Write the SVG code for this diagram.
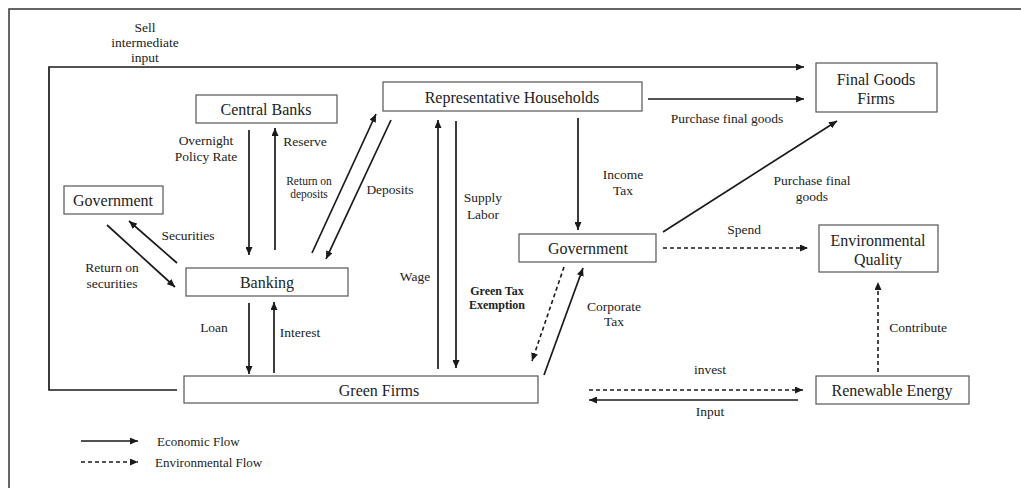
<svg xmlns="http://www.w3.org/2000/svg" width="1021" height="488" viewBox="0 0 1021 488">
<style>
text{font-family:"Liberation Serif","Times New Roman",serif;fill:#222;dominant-baseline:central}
.n{font-size:16px;text-anchor:middle}
.l{font-size:13.5px;text-anchor:middle}
.s{font-size:11.5px;text-anchor:middle}
.b{font-size:12px;font-weight:bold;text-anchor:middle}
.box{fill:#fff;stroke:#555;stroke-width:1.2}
.e{fill:none;stroke:#1a1a1a;stroke-width:1.7;marker-end:url(#ah)}
.d{fill:none;stroke:#1a1a1a;stroke-width:1.6;stroke-dasharray:4 3;marker-end:url(#ah)}
</style>
<defs>
<marker id="ah" markerUnits="userSpaceOnUse" markerWidth="9" markerHeight="7" refX="8" refY="3.5" orient="auto"><path d="M0,0 L8,3.5 L0,7 z" fill="#1a1a1a"/></marker>
</defs>
<rect x="0" y="0" width="1021" height="488" fill="#fff"/>
<rect x="9" y="9" width="1030" height="500" fill="none" stroke="#333" stroke-width="1.5"/>

<g id="connectors">
<path class="e" d="M177,390 H49 V67 H804"/>
<text class="l" x="145" y="27">Sell</text>
<text class="l" x="145" y="42">intermediate</text>
<text class="l" x="145" y="57">input</text>

<line class="e" x1="249" y1="130" x2="249" y2="255"/>
<text class="l" x="206" y="140">Overnight</text>
<text class="l" x="206" y="156">Policy Rate</text>
<line class="e" x1="275" y1="250" x2="275" y2="128"/>
<text class="l" x="305" y="141">Reserve</text>

<line class="e" x1="312" y1="253" x2="376" y2="114"/>
<text class="s" x="309" y="181">Return on</text>
<text class="s" x="309" y="194">deposits</text>
<line class="e" x1="391" y1="120" x2="326" y2="259"/>
<text class="l" x="390" y="189">Deposits</text>

<line class="e" x1="177" y1="263" x2="129" y2="221"/>
<text class="l" x="188" y="235">Securities</text>
<line class="e" x1="107" y1="225" x2="175" y2="287"/>
<text class="l" x="112" y="267">Return on</text>
<text class="l" x="112" y="283">securities</text>

<line class="e" x1="249" y1="303" x2="249" y2="374"/>
<text class="l" x="214" y="327">Loan</text>
<line class="e" x1="274" y1="373" x2="274" y2="302"/>
<text class="l" x="300" y="332">Interest</text>

<line class="e" x1="438" y1="369" x2="438" y2="120"/>
<text class="l" x="415" y="276">Wage</text>
<line class="e" x1="456" y1="121" x2="456" y2="368"/>
<text class="l" x="483" y="197">Supply</text>
<text class="l" x="483" y="214">Labor</text>
<text class="b" x="497" y="291">Green Tax</text>
<text class="b" x="497" y="305">Exemption</text>

<line class="e" x1="578" y1="118" x2="578" y2="230"/>
<text class="l" x="623" y="174">Income</text>
<text class="l" x="623" y="190">Tax</text>

<line class="d" x1="564" y1="267" x2="532" y2="361"/>
<line class="e" x1="544" y1="375" x2="583" y2="268"/>
<text class="l" x="614" y="306">Corporate</text>
<text class="l" x="614" y="321">Tax</text>

<line class="e" x1="648" y1="99" x2="804" y2="99"/>
<text class="l" x="727" y="118">Purchase final goods</text>
<line class="e" x1="663" y1="232" x2="837" y2="121"/>
<text class="l" x="812" y="180">Purchase final</text>
<text class="l" x="812" y="196">goods</text>

<line class="d" x1="663" y1="248" x2="808" y2="248"/>
<text class="l" x="744" y="229">Spend</text>

<line class="d" x1="589" y1="390" x2="803" y2="390"/>
<text class="l" x="710" y="369">invest</text>
<line class="e" x1="798" y1="400" x2="589" y2="400"/>
<text class="l" x="710" y="411">Input</text>

<line class="d" x1="878" y1="372" x2="878" y2="282"/>
<text class="l" x="918" y="327">Contribute</text>
</g>

<g id="central-banks"><rect class="box" x="196" y="95" width="141" height="28"/><text class="n" x="266" y="109">Central Banks</text></g>
<g id="households"><rect class="box" x="383" y="82" width="259" height="29"/><text class="n" x="512" y="97">Representative Households</text></g>
<g id="final-goods"><rect class="box" x="816" y="63" width="121" height="49"/><text class="n" x="876" y="79">Final Goods</text><text class="n" x="876" y="98">Firms</text></g>
<g id="government-left"><rect class="box" x="64" y="186" width="99" height="28"/><text class="n" x="113" y="200">Government</text></g>
<g id="banking"><rect class="box" x="186" y="268" width="162" height="28"/><text class="n" x="267" y="282">Banking</text></g>
<g id="government"><rect class="box" x="519" y="234" width="137" height="28"/><text class="n" x="588" y="248">Government</text></g>
<g id="env-quality"><rect class="box" x="819" y="225" width="119" height="47"/><text class="n" x="878" y="240">Environmental</text><text class="n" x="878" y="259">Quality</text></g>
<g id="green-firms"><rect class="box" x="184" y="376" width="354" height="27"/><text class="n" x="379" y="390">Green Firms</text></g>
<g id="renewable"><rect class="box" x="816" y="376" width="153" height="28"/><text class="n" x="892" y="390">Renewable Energy</text></g>

<g id="legend">
<line class="e" x1="81" y1="441" x2="138" y2="441" style="stroke-width:1.5"/>
<text x="157" y="441" style="font-size:13px">Economic Flow</text>
<line class="d" x1="81" y1="462" x2="138" y2="462" style="stroke-width:1.4"/>
<text x="155" y="462" style="font-size:13px">Environmental Flow</text>
</g>
</svg>
